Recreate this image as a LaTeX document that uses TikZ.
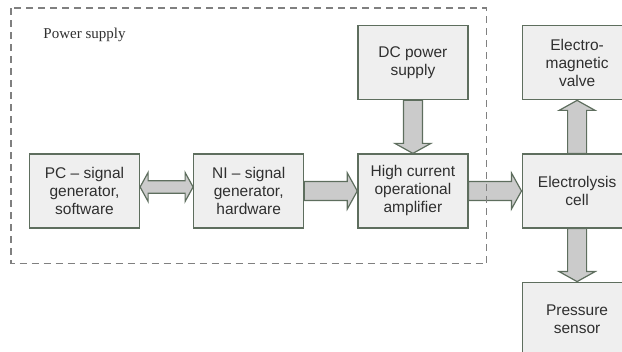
\documentclass[tikz,border=0pt]{standalone}
\usepackage{fontspec}
\setmainfont{Liberation Sans}
\newfontfamily\seriffont{Liberation Serif}
\usetikzlibrary{positioning, calc}
\definecolor{boxfill}{HTML}{EFEFEF}
\definecolor{boxedge}{HTML}{5E6E5E}
\definecolor{arrowfill}{HTML}{CBCBCB}
\definecolor{dashgray}{HTML}{808080}
\definecolor{textgray}{HTML}{2F2F2F}
\tikzset{
  box/.style={draw=boxedge, line width=1.2pt, fill=boxfill, minimum width=110pt, minimum height=74pt,
    inner sep=0pt, align=center, text=textgray, font=\fontsize{15.5}{18}\selectfont},
  fatarrow/.style n args={3}{draw=boxedge, line width=1.2pt, fill=arrowfill,
    to path={let \p1=($(\tikztotarget)-(\tikztostart)$), \n1={veclen(\x1,\y1)}, \n2={atan2(\y1,\x1)} in
      [shift={(\tikztostart)}, rotate=\n2]
      (0pt,-#1pt) -- (\n1-#3pt,-#1pt) -- (\n1-#3pt,-#2pt) -- (\n1,0pt) -- (\n1-#3pt,#2pt)
      -- (\n1-#3pt,#1pt) -- (0pt,#1pt) -- cycle}},
  fatdouble/.style n args={3}{draw=boxedge, line width=1.2pt, fill=arrowfill,
    to path={let \p1=($(\tikztotarget)-(\tikztostart)$), \n1={veclen(\x1,\y1)}, \n2={atan2(\y1,\x1)} in
      [shift={(\tikztostart)}, rotate=\n2]
      (0pt,0pt) -- (#3pt,#2pt) -- (#3pt,#1pt) -- (\n1-#3pt,#1pt) -- (\n1-#3pt,#2pt) -- (\n1,0pt)
      -- (\n1-#3pt,-#2pt) -- (\n1-#3pt,-#1pt) -- (#3pt,-#1pt) -- (#3pt,-#2pt) -- cycle}},
  group/.style={draw=dashgray, line width=1.4pt, dash pattern=on 7pt off 5pt},
}

\begin{document}
\begin{tikzpicture}[x=1pt, y=1pt, node distance=53pt]
  \clip (0,0) rectangle (622,352);
  \node[box] (pc) at (84.5,161) {PC -- signal\\generator,\\software};
  \node[box, right=of pc] (ni) {NI -- signal\\generator,\\hardware};
  \node[box, right=of ni] (amp) {High current\\operational\\amplifier};
  \node[box, above=of amp] (dc) {DC power\\supply};
  \node[box, right=of amp] (cell) {Electrolysis\\cell};
  \node[box, above=of cell] (valve) {Electro-\\magnetic\\valve};
  \node[box, below=of cell] (sensor) {Pressure\\sensor};

  \path[fatdouble={6.3}{14.5}{8}] ([yshift=4pt]pc.east) to ([yshift=4pt]ni.west);
  \path[fatarrow={9.5}{18}{10}] (ni.east) to (amp.west);
  \path[fatarrow={9.5}{18}{10}] (dc.south) to (amp.north);
  \path[fatarrow={9.5}{18}{10}] (amp.east) to (cell.west);
  \path[fatarrow={9.5}{18}{10}] (cell.north) to (valve.south);
  \path[fatarrow={9.5}{18}{10}] (cell.south) to (sensor.north);

  % power supply group
  \draw[group] ($(pc.west |- dc.north)+(-18,17)$) rectangle ($(amp.south east)+(18,-35)$);
  \node[anchor=west, font=\seriffont\fontsize{15}{18}\selectfont, text=textgray] (title)
    at ($(pc.west |- dc.north)+(11,-10)$) {Power supply};
\end{tikzpicture}
\end{document}
